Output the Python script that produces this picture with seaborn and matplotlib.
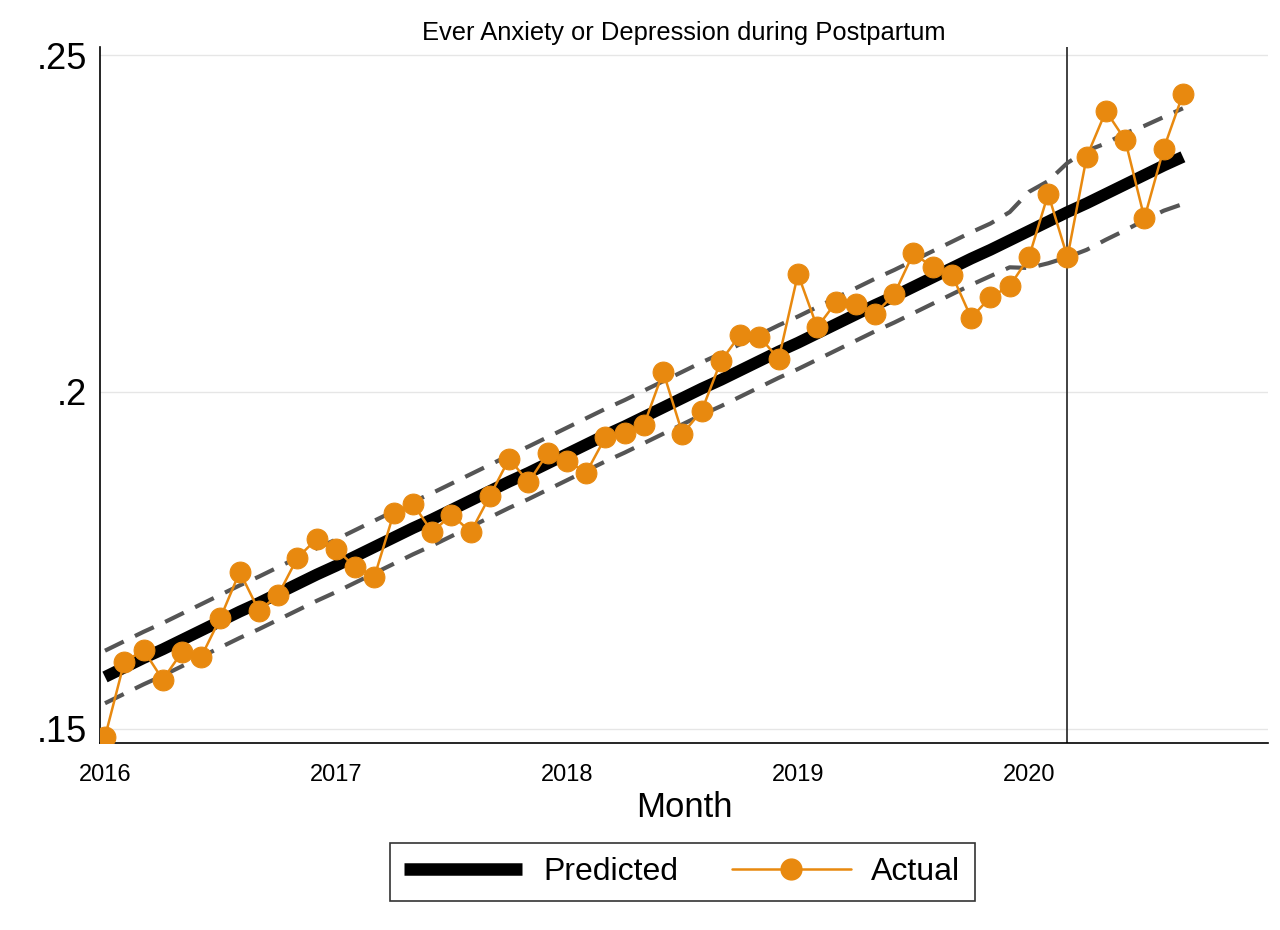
import pandas as pd
import numpy as np
import matplotlib
matplotlib.use("Agg")
import matplotlib.pyplot as plt
from matplotlib.lines import Line2D
import seaborn as sns

# monthly series, Jan 2016 - Sep 2020 (Stata-style monthly axis, equal spacing)
months = pd.period_range("2016-01", periods=57, freq="M")

actual = [0.1488, 0.1599, 0.1617, 0.1573, 0.1614, 0.1607, 0.1665, 0.1733, 0.1675, 0.1699,
          0.1754, 0.1782, 0.1767, 0.1740, 0.1726, 0.1820, 0.1834, 0.1792, 0.1818, 0.1792,
          0.1846, 0.1901, 0.1866, 0.1909, 0.1898, 0.1880, 0.1933, 0.1939, 0.1951, 0.2030,
          0.1938, 0.1972, 0.2046, 0.2085, 0.2082, 0.2049, 0.2175, 0.2096, 0.2134, 0.2131,
          0.2116, 0.2145, 0.2206, 0.2185, 0.2174, 0.2110, 0.2141, 0.2157, 0.2200, 0.2294,
          0.2200, 0.2349, 0.2417, 0.2374, 0.2258, 0.2361, 0.2442]

predicted = [0.1577, 0.1591, 0.1605, 0.1618, 0.1632, 0.1646, 0.1660, 0.1674, 0.1687, 0.1701,
             0.1715, 0.1729, 0.1742, 0.1756, 0.1770, 0.1784, 0.1798, 0.1811, 0.1825, 0.1839,
             0.1853, 0.1867, 0.1880, 0.1894, 0.1908, 0.1922, 0.1936, 0.1949, 0.1963, 0.1977,
             0.1991, 0.2005, 0.2018, 0.2032, 0.2046, 0.2060, 0.2073, 0.2087, 0.2101, 0.2115,
             0.2129, 0.2142, 0.2156, 0.2170, 0.2184, 0.2198, 0.2211, 0.2225, 0.2239, 0.2253,
             0.2267, 0.2280, 0.2294, 0.2308, 0.2322, 0.2336, 0.2349]

upper = [0.1616, 0.1630, 0.1644, 0.1657, 0.1671, 0.1685, 0.1699, 0.1713, 0.1726, 0.1740,
         0.1754, 0.1768, 0.1781, 0.1795, 0.1809, 0.1823, 0.1837, 0.1850, 0.1864, 0.1878,
         0.1892, 0.1906, 0.1919, 0.1933, 0.1947, 0.1961, 0.1975, 0.1988, 0.2002, 0.2016,
         0.2030, 0.2044, 0.2057, 0.2071, 0.2085, 0.2099, 0.2112, 0.2126, 0.2140, 0.2154,
         0.2168, 0.2181, 0.2195, 0.2209, 0.2223, 0.2237, 0.2250, 0.2267, 0.2297, 0.2313,
         0.2340, 0.2358, 0.2369, 0.2384, 0.2395, 0.2408, 0.2421]

lower = [0.1538, 0.1552, 0.1566, 0.1579, 0.1593, 0.1607, 0.1621, 0.1635, 0.1648, 0.1662,
         0.1676, 0.1690, 0.1703, 0.1717, 0.1731, 0.1745, 0.1759, 0.1772, 0.1786, 0.1800,
         0.1814, 0.1828, 0.1841, 0.1855, 0.1869, 0.1883, 0.1897, 0.1910, 0.1924, 0.1938,
         0.1952, 0.1966, 0.1979, 0.1993, 0.2007, 0.2021, 0.2034, 0.2048, 0.2062, 0.2076,
         0.2090, 0.2103, 0.2117, 0.2131, 0.2145, 0.2159, 0.2172, 0.2185, 0.2184, 0.2191,
         0.2200, 0.2211, 0.2226, 0.2240, 0.2255, 0.2269, 0.2279]

yticks = [0.15, 0.2, 0.25]
ytick_labels = [".15", ".2", ".25"]
year_labels = ["2016", "2017", "2018", "2019", "2020"]
policy_month = pd.Period("2020-03", freq="M")

start = months[0]
df = pd.DataFrame({"t": [(m - start).n for m in months], "actual": actual,
                   "predicted": predicted, "upper": upper, "lower": lower})

sns.set_style("white")
plt.rcParams["font.family"] = ["Liberation Sans", "DejaVu Sans"]
plt.rcParams["text.color"] = "black"
plt.rcParams["xtick.color"] = "black"
plt.rcParams["ytick.color"] = "black"
plt.rcParams["axes.labelcolor"] = "black"

orange = "#E8890F"

fig = plt.figure(figsize=(12.8, 9.3), dpi=100)
ax = fig.add_axes([100/1280, 1 - 743/930, 1168/1280, 696/930])

for y in yticks:
    ax.axhline(y, color="#e6e6e6", lw=1, zorder=0)

sns.lineplot(data=df, x="t", y="upper", ax=ax, color="#555555", lw=3,
             zorder=2).lines[-1].set_dashes((5, 3))
sns.lineplot(data=df, x="t", y="lower", ax=ax, color="#555555", lw=3,
             zorder=2).lines[-1].set_dashes((5, 3))
sns.lineplot(data=df, x="t", y="predicted", ax=ax, color="black", lw=8.5,
             zorder=3, solid_capstyle="butt", solid_joinstyle="round")
sns.lineplot(data=df, x="t", y="actual", ax=ax, color=orange, lw=1.8,
             marker="o", markersize=15, markeredgecolor=orange, zorder=4)

ax.axvline((policy_month - start).n, color="#333333", lw=1.3, zorder=1)

ax.set_xlim(-0.26, 60.42)
ax.set_ylim(0.1479, 0.2512)

ax.set_yticks(yticks)
ax.set_yticklabels(ytick_labels, fontsize=26)
ax.set_xticks([12 * k for k in range(len(year_labels))])
ax.set_xticklabels(year_labels, fontsize=17)
ax.tick_params(axis="y", direction="out", length=6, width=1.2, pad=3)
ax.tick_params(axis="x", direction="out", length=9, width=1.2, pad=6)

for s in ["top", "right"]:
    ax.spines[s].set_visible(False)
for s in ["left", "bottom"]:
    ax.spines[s].set_color("black")
    ax.spines[s].set_linewidth(1.2)

ax.set_xlabel("Month", fontsize=25, labelpad=4)
ax.set_ylabel("")
ax.set_title("Ever Anxiety or Depression during Postpartum", fontsize=18.4, pad=5)

handles = [Line2D([], [], color="black", lw=9, solid_capstyle="butt"),
           Line2D([], [], color=orange, lw=1.8, marker="o", markersize=15,
                  markeredgecolor=orange)]
leg = fig.legend(handles, ["Predicted", "Actual"], loc="center",
                 bbox_to_anchor=(0.533, 0.0624), ncol=2, fontsize=23,
                 frameon=True, fancybox=False, handlelength=3.7,
                 columnspacing=1.7, handletextpad=0.65, borderpad=0.45,
                 borderaxespad=0)
leg.get_frame().set_edgecolor("black")
leg.get_frame().set_linewidth(1.2)

fig.savefig("out.png", dpi=100, facecolor="white")
